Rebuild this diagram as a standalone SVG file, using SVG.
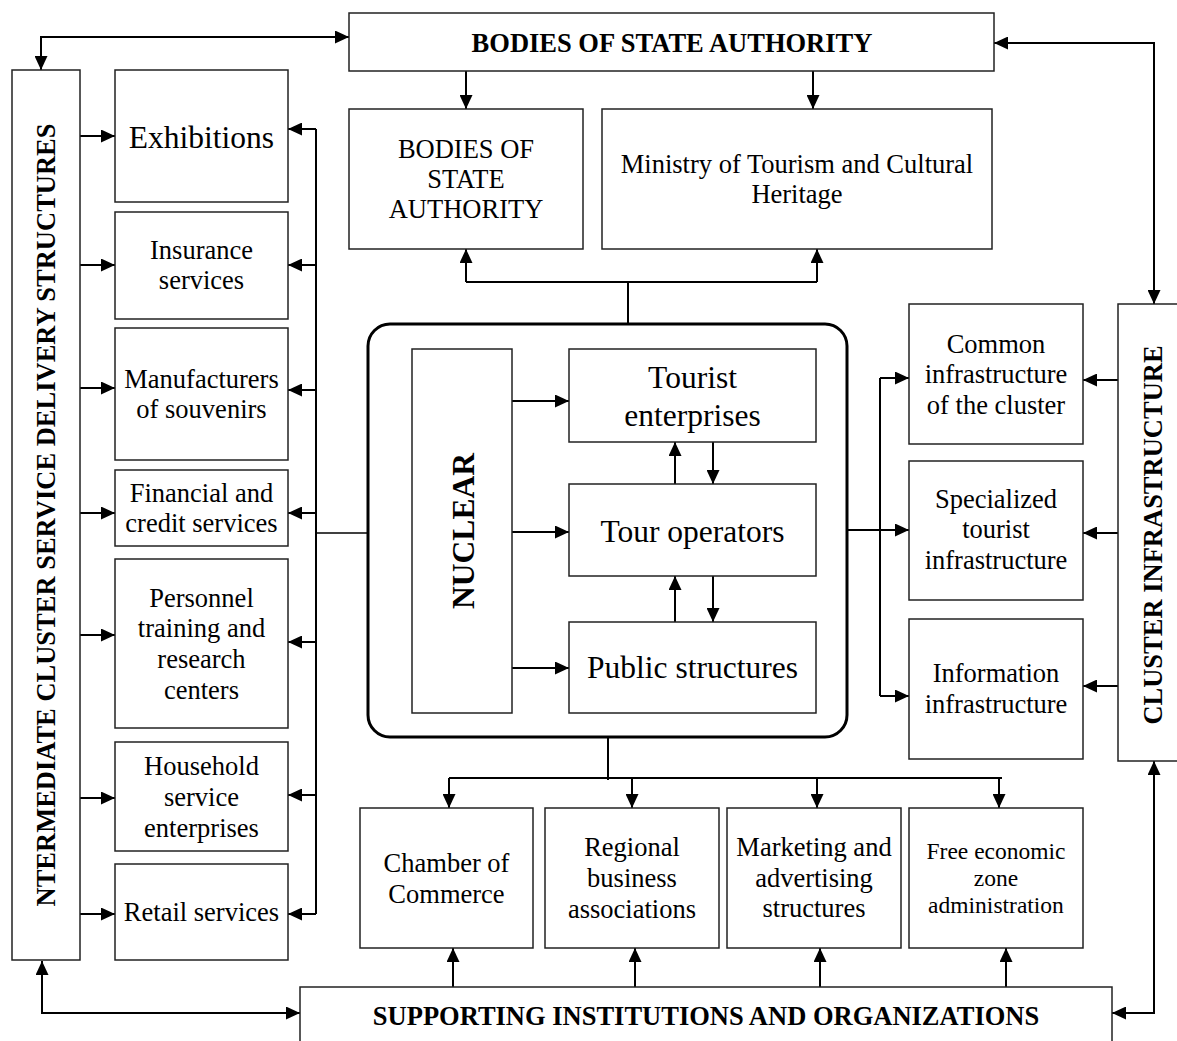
<svg xmlns="http://www.w3.org/2000/svg" width="1177" height="1041" viewBox="0 0 1177 1041">
<style>
.box{fill:#fff;stroke:#222;stroke-width:1.5}
.t{font-family:"Liberation Serif","Times New Roman",serif;font-size:26.5px;fill:#000;text-anchor:middle}
.tl{font-size:31.5px}
.ts{font-size:23.5px}
.b{font-weight:bold}
.c{fill:none;stroke:#000;stroke-width:2}
.a{marker-end:url(#ah)}
.aa{marker-end:url(#ah);marker-start:url(#ah)}
</style>
<defs>
<marker id="ah" viewBox="0 0 14 13" refX="14" refY="6.5" markerWidth="14" markerHeight="13" markerUnits="userSpaceOnUse" orient="auto-start-reverse">
<path d="M0,0 L14,6.5 L0,13 z" fill="#000"/>
</marker>
</defs>
<rect width="1177" height="1041" fill="#fff"/>

<g id="connectors">
<path class="c aa" d="M41,70 L41,37 L349,37"/>
<path class="c aa" d="M994,43 L1154,43 L1154,304"/>
<path class="c aa" d="M42,961 L42,1013 L300,1013"/>
<path class="c aa" d="M1154,761 L1154,1013 L1112,1013"/>
<path class="c a" d="M466,71 L466,109"/>
<path class="c a" d="M813,71 L813,109"/>
<path class="c" d="M628,324 L628,282"/>
<path class="c" d="M466,282 L817,282"/>
<path class="c a" d="M466,282 L466,249"/>
<path class="c a" d="M817,282 L817,249"/>
<path class="c" d="M316,129 L316,914"/>
<path class="c a" d="M316,129 L288,129"/>
<path class="c a" d="M316,265 L288,265"/>
<path class="c a" d="M316,390 L288,390"/>
<path class="c a" d="M316,513 L288,513"/>
<path class="c a" d="M316,642 L288,642"/>
<path class="c a" d="M316,795 L288,795"/>
<path class="c a" d="M316,914 L288,914"/>
<path class="c" style="stroke-width:1.5" d="M316,533 L368,533"/>
<path class="c a" d="M80,136 L115,136"/>
<path class="c a" d="M80,265 L115,265"/>
<path class="c a" d="M80,388 L115,388"/>
<path class="c a" d="M80,513 L115,513"/>
<path class="c a" d="M80,635 L115,635"/>
<path class="c a" d="M80,798 L115,798"/>
<path class="c a" d="M80,914 L115,914"/>
<path class="c a" d="M512,401 L569,401"/>
<path class="c a" d="M512,532 L569,532"/>
<path class="c a" d="M512,668 L569,668"/>
<path class="c a" d="M675,484 L675,442"/>
<path class="c a" d="M713,442 L713,484"/>
<path class="c a" d="M675,622 L675,576"/>
<path class="c a" d="M713,576 L713,622"/>
<path class="c a" d="M847,530 L909,530"/>
<path class="c" d="M880,378 L880,696"/>
<path class="c a" d="M880,378 L909,378"/>
<path class="c a" d="M880,696 L909,696"/>
<path class="c a" d="M1118,380 L1083,380"/>
<path class="c a" d="M1118,533 L1083,533"/>
<path class="c a" d="M1118,686 L1083,686"/>
<path class="c" d="M608,737 L608,780"/>
<path class="c" d="M449,778 L1002,778"/>
<path class="c a" d="M449,778 L449,808"/>
<path class="c a" d="M632,778 L632,808"/>
<path class="c a" d="M817,778 L817,808"/>
<path class="c a" d="M999,778 L999,808"/>
<path class="c a" d="M453,987 L453,948"/>
<path class="c a" d="M635,987 L635,948"/>
<path class="c a" d="M820,987 L820,948"/>
<path class="c a" d="M1006,987 L1006,948"/>
</g>

<g id="state-authority-top">
<rect class="box" x="349" y="13" width="645" height="58"/>
<text class="t b" x="672" y="52">BODIES OF STATE AUTHORITY</text>
</g>
<g id="state-authority">
<rect class="box" x="349" y="109" width="234" height="140"/>
<text class="t" x="466" y="158">BODIES OF</text>
<text class="t" x="466" y="188">STATE</text>
<text class="t" x="466" y="218">AUTHORITY</text>
</g>
<g id="ministry">
<rect class="box" x="602" y="109" width="390" height="140"/>
<text class="t" x="797" y="173">Ministry of Tourism and Cultural</text>
<text class="t" x="797" y="203">Heritage</text>
</g>

<g id="intermediate">
<rect class="box" x="12" y="70" width="68" height="890"/>
<text class="t b" transform="translate(55,515) rotate(-90)">NTERMEDIATE CLUSTER SERVICE DELIVERY STRUCTURES</text>
</g>
<g id="exhibitions">
<rect class="box" x="115" y="70" width="173" height="132"/>
<text class="t tl" x="201.5" y="148">Exhibitions</text>
</g>
<g id="insurance">
<rect class="box" x="115" y="212" width="173" height="107"/>
<text class="t" x="201.5" y="259">Insurance</text>
<text class="t" x="201.5" y="289">services</text>
</g>
<g id="souvenirs">
<rect class="box" x="115" y="328" width="173" height="132"/>
<text class="t" x="201.5" y="388">Manufacturers</text>
<text class="t" x="201.5" y="418">of souvenirs</text>
</g>
<g id="financial">
<rect class="box" x="115" y="470" width="173" height="76"/>
<text class="t" x="201.5" y="502">Financial and</text>
<text class="t" x="201.5" y="532">credit services</text>
</g>
<g id="personnel">
<rect class="box" x="115" y="559" width="173" height="169"/>
<text class="t" x="201.5" y="607">Personnel</text>
<text class="t" x="201.5" y="637">training and</text>
<text class="t" x="201.5" y="668">research</text>
<text class="t" x="201.5" y="699">centers</text>
</g>
<g id="household">
<rect class="box" x="115" y="742" width="173" height="109"/>
<text class="t" x="201.5" y="775">Household</text>
<text class="t" x="201.5" y="806">service</text>
<text class="t" x="201.5" y="837">enterprises</text>
</g>
<g id="retail">
<rect class="box" x="115" y="864" width="173" height="96"/>
<text class="t" x="201.5" y="921">Retail services</text>
</g>

<g id="core">
<rect x="368" y="324" width="479" height="413" rx="22" fill="none" stroke="#000" stroke-width="3"/>
</g>
<g id="nuclear">
<rect class="box" x="412" y="349" width="100" height="364"/>
<text class="t tl b" transform="translate(474,531) rotate(-90)">NUCLEAR</text>
</g>
<g id="tourist-enterprises">
<rect class="box" x="569" y="349" width="247" height="93"/>
<text class="t tl" x="692.5" y="388">Tourist</text>
<text class="t tl" x="692.5" y="426">enterprises</text>
</g>
<g id="tour-operators">
<rect class="box" x="569" y="484" width="247" height="92"/>
<text class="t tl" x="692.5" y="542">Tour operators</text>
</g>
<g id="public-structures">
<rect class="box" x="569" y="622" width="247" height="91"/>
<text class="t tl" x="692.5" y="678">Public structures</text>
</g>

<g id="common-infra">
<rect class="box" x="909" y="304" width="174" height="140"/>
<text class="t" x="996" y="353">Common</text>
<text class="t" x="996" y="383">infrastructure</text>
<text class="t" x="996" y="414">of the cluster</text>
</g>
<g id="specialized-infra">
<rect class="box" x="909" y="461" width="174" height="139"/>
<text class="t" x="996" y="508">Specialized</text>
<text class="t" x="996" y="538">tourist</text>
<text class="t" x="996" y="569">infrastructure</text>
</g>
<g id="information-infra">
<rect class="box" x="909" y="619" width="174" height="140"/>
<text class="t" x="996" y="682">Information</text>
<text class="t" x="996" y="713">infrastructure</text>
</g>
<g id="cluster-infra">
<rect class="box" x="1118" y="304" width="80" height="457"/>
<text class="t b" transform="translate(1162,535) rotate(-90)">CLUSTER INFRASTRUCTURE</text>
</g>

<g id="chamber">
<rect class="box" x="360" y="808" width="173" height="140"/>
<text class="t" x="446.5" y="872">Chamber of</text>
<text class="t" x="446.5" y="903">Commerce</text>
</g>
<g id="regional">
<rect class="box" x="545" y="808" width="174" height="140"/>
<text class="t" x="632" y="856">Regional</text>
<text class="t" x="632" y="887">business</text>
<text class="t" x="632" y="918">associations</text>
</g>
<g id="marketing">
<rect class="box" x="727" y="808" width="174" height="140"/>
<text class="t" x="814" y="856">Marketing and</text>
<text class="t" x="814" y="887">advertising</text>
<text class="t" x="814" y="917">structures</text>
</g>
<g id="free-zone">
<rect class="box" x="909" y="808" width="174" height="140"/>
<text class="t ts" x="996" y="859">Free economic</text>
<text class="t ts" x="996" y="886">zone</text>
<text class="t ts" x="996" y="913">administration</text>
</g>
<g id="supporting">
<rect class="box" x="300" y="987" width="812" height="70"/>
<text class="t b" x="706" y="1025">SUPPORTING INSTITUTIONS AND ORGANIZATIONS</text>
</g>
</svg>
